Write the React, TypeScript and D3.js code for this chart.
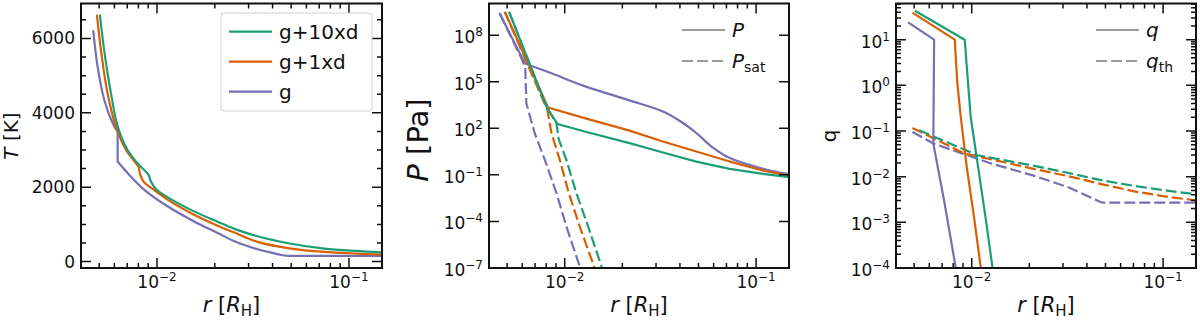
import React from 'react';
import * as d3 from 'd3';

type Pt = [number, number];

const GREEN = '#1b9e77';
const ORANGE = '#d95f02';
const PURPLE = '#7570b3';
const LEGEND_GRAY = '#9a9a9a';
const INK = '#111';
const FONT = '"DejaVu Sans", sans-serif';

// temperature  [r (R_H), T (K)]
const tempG10xd: Pt[] = [
  [0.00505, 6617], [0.00531, 5680], [0.00576, 4520], [0.00624, 3640], [0.00703, 3000],
  [0.00793, 2640], [0.00904, 2330], [0.0093, 2150], [0.00988, 1950], [0.0118, 1680],
  [0.0156, 1350], [0.0207, 1070], [0.0253, 880], [0.0334, 680], [0.0499, 480],
  [0.0744, 350], [0.111, 285], [0.15, 248],
];
const tempG1xd: Pt[] = [
  [0.00487, 6617], [0.00511, 5680], [0.00553, 4520], [0.00612, 3620], [0.0069, 3000],
  [0.00778, 2640], [0.00802, 2550], [0.00818, 2330], [0.00859, 2125], [0.0093, 1990],
  [0.0114, 1660], [0.0156, 1260], [0.0207, 965], [0.0253, 780], [0.0334, 530],
  [0.0499, 350], [0.0744, 260], [0.111, 214], [0.15, 186],
];
const tempG: Pt[] = [
  [0.00466, 6200], [0.00491, 5230], [0.00532, 4340], [0.00588, 3720], [0.00624, 3490],
  [0.00624, 2690], [0.00703, 2380], [0.00859, 1930], [0.0114, 1480], [0.0156, 1080],
  [0.0207, 770], [0.0253, 545], [0.0334, 330], [0.0398, 235], [0.0451, 170],
  [0.048, 152], [0.07, 152], [0.15, 152],
];

// pressure and saturation pressure  [r, P (Pa)]
const presG10xd: Pt[] = [
  [0.00512, 3.2e9], [0.00803, 2.5e3], [0.00853, 7.2e2], [0.00917, 1.9e2], [0.0127, 62],
  [0.0218, 11], [0.0326, 2.75], [0.0487, 0.72], [0.0728, 0.245], [0.1086, 0.117], [0.15, 0.07],
];
const presG1xd: Pt[] = [
  [0.00486, 3.2e9], [0.00818, 2.2e3], [0.0127, 450], [0.0218, 71], [0.0326, 14],
  [0.0487, 3.2], [0.0728, 0.72], [0.1086, 0.19], [0.15, 0.087],
];
const presG: Pt[] = [
  [0.00458, 2.4e9], [0.0062, 1.5e6], [0.00853, 3.5e5], [0.0127, 5.2e4], [0.0218, 6.3e3],
  [0.0326, 1.2e3], [0.0415, 220], [0.0487, 50], [0.0595, 5.6], [0.0728, 1.2],
  [0.1086, 0.25], [0.15, 0.11],
];
const psatG10xd: Pt[] = [
  [0.00512, 3.2e9], [0.00803, 2.5e3], [0.00853, 7.2e2], [0.00905, 2.2e2], [0.0093, 20],
  [0.0102, 0.93], [0.0115, 6.8e-3], [0.01325, 4.8e-5], [0.01556, 1.3e-7], [0.0162, 3e-8],
];
const psatG1xd: Pt[] = [
  [0.00486, 3.2e9], [0.00812, 1.5e3], [0.00853, 48], [0.00942, 0.93], [0.0105, 6.8e-3],
  [0.01197, 4.8e-5], [0.01422, 1.3e-7], [0.0148, 3e-8],
];
const psatG: Pt[] = [
  [0.00458, 2.4e9], [0.00594, 3.2e6], [0.00622, 8e5], [0.0063, 4.1e3], [0.00697, 48],
  [0.00787, 0.93], [0.00905, 6.8e-3], [0.0102, 4.8e-5], [0.01197, 1.3e-7], [0.0125, 3e-8],
];

// mass ratio and threshold  [r, q]
const qG10xd: Pt[] = [
  [0.00505, 43], [0.00919, 10], [0.00957, 1.1], [0.00988, 0.2], [0.0108, 0.0162],
  [0.0118, 1.3e-3], [0.01283, 1.05e-4], [0.0131, 6e-5],
];
const qG1xd: Pt[] = [
  [0.0049, 39], [0.00815, 10], [0.00841, 1.1], [0.00877, 0.2], [0.00942, 0.0162],
  [0.01028, 1.3e-3], [0.01114, 1.05e-4], [0.0114, 6e-5],
];
const qG: Pt[] = [
  [0.00465, 24], [0.00636, 10], [0.0063, 0.053], [0.00717, 3.0e-3], [0.00824, 1.05e-4], [0.0084, 6e-5],
];
const qthG10xd: Pt[] = [
  [0.00531, 0.104], [0.0107, 0.0295], [0.0216, 0.017], [0.0322, 0.012], [0.0481, 0.0083],
  [0.0718, 0.0062], [0.107, 0.0049], [0.15, 0.0041],
];
const qthG1xd: Pt[] = [
  [0.0049, 0.117], [0.00912, 0.0324], [0.0216, 0.0145], [0.0322, 0.0102], [0.0481, 0.0068],
  [0.0718, 0.0047], [0.107, 0.0036], [0.15, 0.003],
];
const qthG: Pt[] = [
  [0.0049, 0.095], [0.00636, 0.0525], [0.0126, 0.0195], [0.0216, 0.0102], [0.0322, 0.0058],
  [0.0462, 0.0029], [0.0481, 0.0027], [0.15, 0.0027],
];

const modelNames = ['g+10xd', 'g+1xd', 'g'];
const modelColors = [GREEN, ORANGE, PURPLE];

const xMajor = [1e-2, 1e-1];
const tMajor = [0, 2000, 4000, 6000];
const tMinor = [500, 1000, 1500, 2500, 3000, 3500, 4500, 5000, 5500, 6500];
const pMajor = [1e-7, 1e-4, 1e-1, 1e2, 1e5, 1e8];
const qMajor = [1e-4, 1e-3, 1e-2, 1e-1, 1e0, 1e1];

// layout
const W = 1200;
const H = 322;
const TOP = 3.5;
const BOTTOM = 268;
const MAJOR_LEN = 10;
const MINOR_LEN = 5;
const DASH = '11,4';

const expText = (v: number) => {
  const e = Math.round(Math.log10(v));
  return e < 0 ? `\u2212${-e}` : `${e}`;
};

const isPow10 = (v: number) => Math.abs(Math.log10(v) - Math.round(Math.log10(v))) < 1e-9;

// kinks: indices where a smoothed line keeps a sharp corner
interface Series { data: Pt[]; color: string; dashed?: boolean; smooth?: boolean; kinks?: number[] }

interface PanelProps {
  id: string;
  left: number;
  right: number;
  y: any;
  yMajor: number[];
  yMinor: number[];
  logY: boolean;
  series: Series[];
  children?: React.ReactNode;
}

const Panel = ({ id, left, right, y, yMajor, yMinor, logY, series, children }: PanelProps) => {
  const x = d3.scaleLog().domain([0.00402, 0.1486]).range([left, right]);
  const xMinor = x.ticks().filter(v => !isPow10(v));
  const straight = d3.line<Pt>().x(d => x(d[0])).y(d => y(d[1]));
  const smooth = d3.line<Pt>().x(d => x(d[0])).y(d => y(d[1])).curve(d3.curveCatmullRom.alpha(0.5));

  const pathOf = (s: Series) => {
    if (!s.smooth) return straight(s.data) || '';
    const cuts = [0, ...(s.kinks || []), s.data.length - 1];
    let d = '';
    for (let k = 0; k < cuts.length - 1; k++) {
      d += smooth(s.data.slice(cuts[k], cuts[k + 1] + 1)) || '';
    }
    return d;
  };

  const ticks: string[] = [];
  xMajor.forEach(v => {
    const px = x(v);
    ticks.push(`M${px},${BOTTOM}V${BOTTOM - MAJOR_LEN}M${px},${TOP}V${TOP + MAJOR_LEN}`);
  });
  xMinor.forEach(v => {
    const px = x(v);
    ticks.push(`M${px},${BOTTOM}V${BOTTOM - MINOR_LEN}M${px},${TOP}V${TOP + MINOR_LEN}`);
  });
  yMajor.forEach(v => {
    const py = y(v);
    ticks.push(`M${left},${py}H${left + MAJOR_LEN}M${right},${py}H${right - MAJOR_LEN}`);
  });
  yMinor.forEach(v => {
    const py = y(v);
    ticks.push(`M${left},${py}H${left + MINOR_LEN}M${right},${py}H${right - MINOR_LEN}`);
  });

  return (
    <g>
      <defs>
        <clipPath id={id}>
          <rect x={left} y={TOP} width={right - left} height={BOTTOM - TOP} />
        </clipPath>
      </defs>
      <g clipPath={`url(#${id})`}>
        {series.map((s, i) => (
          <path key={i} d={pathOf(s)} fill="none" stroke={s.color} strokeWidth={2.2}
            strokeDasharray={s.dashed ? DASH : undefined} strokeLinejoin="round"
            strokeLinecap={s.smooth ? 'round' : 'butt'} />
        ))}
      </g>
      <path d={ticks.join('')} stroke={INK} strokeWidth={1.5} fill="none" />
      <rect x={left} y={TOP} width={right - left} height={BOTTOM - TOP} fill="none" stroke={INK} strokeWidth={2} />
      {xMajor.map(v => (
        <text key={v} x={x(v)} y={288} textAnchor="middle" fontSize={17}>
          10<tspan dy={-7} fontSize={12}>{expText(v)}</tspan>
        </text>
      ))}
      {yMajor.map(v => logY ? (
        <text key={v} x={left - 6} y={y(v) + 8} textAnchor="end" fontSize={17}>
          10<tspan dy={-7} fontSize={12}>{expText(v)}</tspan>
        </text>
      ) : (
        <text key={v} x={left - 6} y={y(v) + 6} textAnchor="end" fontSize={17}>{v}</text>
      ))}
      <text x={(left + right) / 2} y={312} textAnchor="middle" fontSize={21}>
        <tspan fontStyle="italic">r</tspan>{' ['}<tspan fontStyle="italic">R</tspan>
        <tspan fontSize={15} dy={3.5}>H</tspan><tspan dy={-3.5}>]</tspan>
      </text>
      {children}
    </g>
  );
};

const LegendRow = ({ x, y, color, dashed, children }: any) => (
  <g>
    <line x1={x} x2={x + 43} y1={y} y2={y} stroke={color} strokeWidth={2.2}
      strokeDasharray={dashed ? DASH : undefined} />
    <text x={x + 50} y={y + 7} fontSize={20}>{children}</text>
  </g>
);

const App = () => {
  const yT = d3.scaleLinear().domain([-173, 6940]).range([BOTTOM, TOP]);
  const yP = d3.scaleLog().domain([1e-7, 1.1e10]).range([BOTTOM, TOP]);
  const yQ = d3.scaleLog().domain([1e-4, 62]).range([BOTTOM, TOP]);
  const qMinor = yQ.ticks().filter(v => !isPow10(v));

  const tempSeries: Series[] = [
    { data: tempG, color: PURPLE, smooth: true, kinks: [4, 5, 15] },
    { data: tempG1xd, color: ORANGE, smooth: true },
    { data: tempG10xd, color: GREEN, smooth: true },
  ];
  const presSeries: Series[] = [
    ...[psatG, psatG1xd, psatG10xd].map((d, i) => ({ data: d, color: modelColors[2 - i], dashed: true })),
    { data: presG, color: PURPLE, smooth: true, kinks: [1] },
    { data: presG1xd, color: ORANGE },
    { data: presG10xd, color: GREEN },
  ];
  const qSeries: Series[] = [
    ...[qthG, qthG1xd, qthG10xd].map((d, i) => ({ data: d, color: modelColors[2 - i], dashed: true })),
    ...[qG, qG1xd, qG10xd].map((d, i) => ({ data: d, color: modelColors[2 - i] })),
  ];

  return (
    <div style={{ position: 'absolute', left: 0, top: 0 }}>
      <svg width={W} height={H} style={{ display: 'block', fontFamily: FONT }} fill={INK}>
        <rect width={W} height={H} fill="#fff" />

        <Panel id="c1" left={81} right={382} y={yT} yMajor={tMajor} yMinor={tMinor} logY={false} series={tempSeries}>
          <text transform="translate(18,136) rotate(-90)" textAnchor="middle" fontSize={20}>
            <tspan fontStyle="italic">T</tspan>{' [K]'}
          </text>
          <rect x={221} y={13} width={151} height={98} rx={3} fill="#fff" fillOpacity={0.8} stroke="#d0d0d0" strokeWidth={1} />
          {modelNames.map((n, i) => (
            <LegendRow key={n} x={229} y={31.7 + i * 30} color={modelColors[i]}>{n}</LegendRow>
          ))}
        </Panel>

        <Panel id="c2" left={489} right={789} y={yP} yMajor={pMajor} yMinor={[]} logY series={presSeries}>
          <text transform="translate(428,140) rotate(-90)" textAnchor="middle" fontSize={29}>
            <tspan fontStyle="italic">P</tspan>{' [Pa]'}
          </text>
          <LegendRow x={682} y={30} color={LEGEND_GRAY}><tspan fontStyle="italic">P</tspan></LegendRow>
          <LegendRow x={682} y={61} color={LEGEND_GRAY} dashed>
            <tspan fontStyle="italic">P</tspan><tspan fontSize={14} dy={4}>sat</tspan>
          </LegendRow>
        </Panel>

        <Panel id="c3" left={896} right={1196} y={yQ} yMajor={qMajor} yMinor={qMinor} logY series={qSeries}>
          <text transform="translate(836,136) rotate(-90)" textAnchor="middle" fontSize={20}>q</text>
          <LegendRow x={1096} y={30} color={LEGEND_GRAY}><tspan fontStyle="italic">q</tspan></LegendRow>
          <LegendRow x={1096} y={61} color={LEGEND_GRAY} dashed>
            <tspan fontStyle="italic">q</tspan><tspan fontSize={14} dy={4}>th</tspan>
          </LegendRow>
        </Panel>
      </svg>
    </div>
  );
};

export default App;
